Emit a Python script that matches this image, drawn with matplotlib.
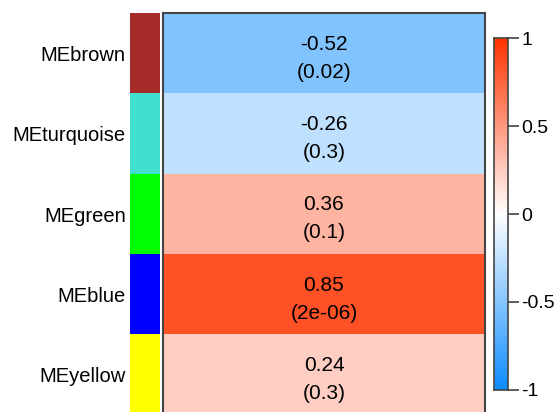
import matplotlib
matplotlib.use("Agg")
import matplotlib.pyplot as plt
import numpy as np
from matplotlib.colors import LinearSegmentedColormap, ListedColormap, Normalize

plt.rcParams['font.family'] = ['Liberation Sans', 'DejaVu Sans']

# module eigengenes vs trait
modules = ["MEbrown", "MEturquoise", "MEgreen", "MEblue", "MEyellow"]
module_colors = ["#A52A2A", "#40E0D0", "#00FF00", "#0000FF", "#FFFF00"]
cor_values = [-0.52, -0.26, 0.36, 0.85, 0.24]
p_labels = ["0.02", "0.3", "0.1", "2e-06", "0.3"]
cbar_ticks = [-1, -0.5, 0, 0.5, 1]
cbar_ticklabels = ["-1", "-0.5", "0", "0.5", "1"]

# WGCNA style blueWhiteRed
bwr = LinearSegmentedColormap.from_list(
    "blueWhiteRed", [(0.05, 0.55, 1.0), (1, 1, 1), (1.0, 0.2, 0.0)])
norm = Normalize(vmin=-1, vmax=1)

W, H = 557, 412
fig = plt.figure(figsize=(W / 100, H / 100), dpi=100)

n = len(modules)
top, bottom = 13, 415
# heatmap
ax = fig.add_axes([163 / W, 1 - bottom / H, 322 / W, (bottom - top) / H])
data = np.array(cor_values).reshape(n, 1)
ax.imshow(data, cmap=bwr, norm=norm, aspect="auto",
          extent=(0, 1, n, 0), interpolation="nearest")
for i in range(n):
    ax.text(0.5, i + 0.56, "%.2f\n(%s)" % (cor_values[i], p_labels[i]),
            ha="center", va="center", fontsize=15, linespacing=1.6)
ax.set_xlim(0, 1)
ax.set_ylim(n, 0)
ax.set_xticks([])
ax.set_yticks([])
for s in ax.spines.values():
    s.set_color("#444444")
    s.set_linewidth(1.5)

# module colour strip
sax = fig.add_axes([130 / W, 1 - bottom / H, 29 / W, (bottom - top) / H])
sax.imshow(np.arange(n).reshape(n, 1), cmap=ListedColormap(module_colors),
           aspect="auto", extent=(0, 1, n, 0), interpolation="nearest")
sax.set_xlim(0, 1)
sax.set_ylim(n, 0)
sax.set_xticks([])
sax.set_yticks(np.arange(n) + 0.5)
sax.set_yticklabels(modules, fontsize=14.5)
sax.tick_params(axis="y", length=0, pad=3)
for s in sax.spines.values():
    s.set_visible(False)

# colour bar
cax = fig.add_axes([494 / W, 1 - 390 / H, 14 / W, 352 / H])
grad = np.linspace(-1, 1, 256).reshape(-1, 1)
cax.imshow(grad, cmap=bwr, norm=norm, aspect="auto", origin="lower",
           extent=(0, 1, -1, 1))
cax.set_xticks([])
cax.yaxis.tick_right()
cax.set_yticks(cbar_ticks)
cax.set_yticklabels(cbar_ticklabels, fontsize=14)
cax.tick_params(axis="y", length=8, width=1.2, color="#444444", pad=1.5)
for s in cax.spines.values():
    s.set_color("#444444")
    s.set_linewidth(1.2)

fig.savefig("out.png", dpi=100)
